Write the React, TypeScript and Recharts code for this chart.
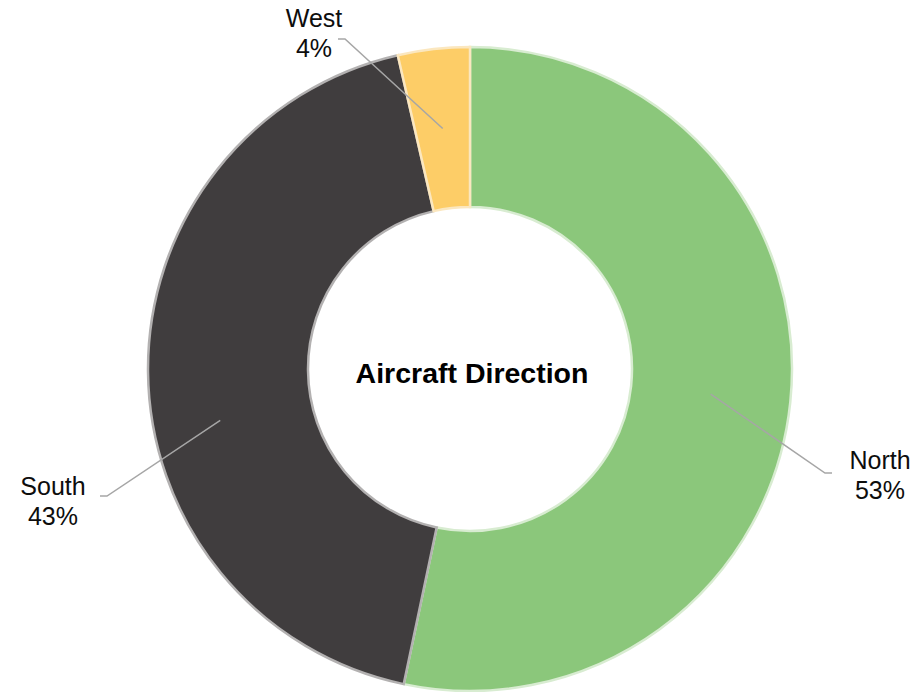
import { PieChart, Pie, Cell } from "recharts";

const categories = ["North", "South", "West"];
const shares = [53.3, 43.1, 3.6];
const title = "Aircraft Direction";

const fills = ["#8bc77b", "#403d3e", "#fdcd67"];
const edges = ["#d8ecd1", "#b3b1b1", "#fbe7bf"];

const data = categories.map((name, i) => ({ name, value: shares[i] }));

const FONT = "'Liberation Sans', Arial, sans-serif";
const RAD = Math.PI / 180;

// where each leader line goes, relative to the pie centre (Excel placed these by hand)
const leaders: Record<string, { shift: number; reach: number; elbow: [number, number]; end: [number, number]; text: [number, number] }> = {
    North: { shift: 0, reach: 0, elbow: [355, 104], end: [362, 104], text: [410, 100] },
    South: { shift: 11.1, reach: 13, elbow: [-363, 127], end: [-370, 127], text: [-417, 126] },
    West: { shift: 0, reach: 0, elbow: [-125, -330], end: [-132, -330], text: [-156, -342] },
};

const renderLabel = (props: any) => {
    const { cx, cy, midAngle, innerRadius, outerRadius, name, percent } = props;
    const l = leaders[name];
    if (!l) return null;
    const r = (innerRadius + outerRadius) / 2 + l.reach;
    const a = (midAngle + l.shift) * RAD;
    const sx = cx + r * Math.cos(-a);
    const sy = cy + r * Math.sin(-a);
    const pts = `${sx},${sy} ${cx + l.elbow[0]},${cy + l.elbow[1]} ${cx + l.end[0]},${cy + l.end[1]}`;
    const tx = cx + l.text[0];
    const ty = cy + l.text[1];
    return (
        <g>
            <polyline points={pts} fill="none" stroke="#a6a6a6" strokeWidth={1.5} />
            <text x={tx} y={ty} textAnchor="middle" fontFamily={FONT} fontSize={25} fill="#0d0d0d">
                <tspan x={tx} y={ty}>{name}</tspan>
                <tspan x={tx} y={ty + 30}>{`${Math.round(percent * 100)}%`}</tspan>
            </text>
        </g>
    );
};

export default function App() {
    return (
        <div style={{ position: "absolute", left: 0, top: 0, width: 923, height: 692, background: "#fff" }}>
            <PieChart width={923} height={692} margin={{ top: 0, right: 0, bottom: 0, left: 0 }}>
                <Pie
                    data={data}
                    dataKey="value"
                    nameKey="name"
                    cx={470}
                    cy={369}
                    innerRadius={162}
                    outerRadius={322}
                    startAngle={90}
                    endAngle={-270}
                    label={renderLabel}
                    labelLine={false}
                    isAnimationActive={false}
                >
                    {data.map((d, i) => (
                        <Cell key={d.name} fill={fills[i]} stroke={edges[i]} strokeWidth={2.5} />
                    ))}
                </Pie>
            </PieChart>
            <div
                style={{
                    position: "absolute",
                    left: 0,
                    top: 359,
                    width: 944,
                    textAlign: "center",
                    fontFamily: FONT,
                    fontSize: 28.5,
                    lineHeight: "28px",
                    fontWeight: "bold",
                    color: "#000",
                    pointerEvents: "none",
                }}
            >
                {title}
            </div>
        </div>
    );
}
